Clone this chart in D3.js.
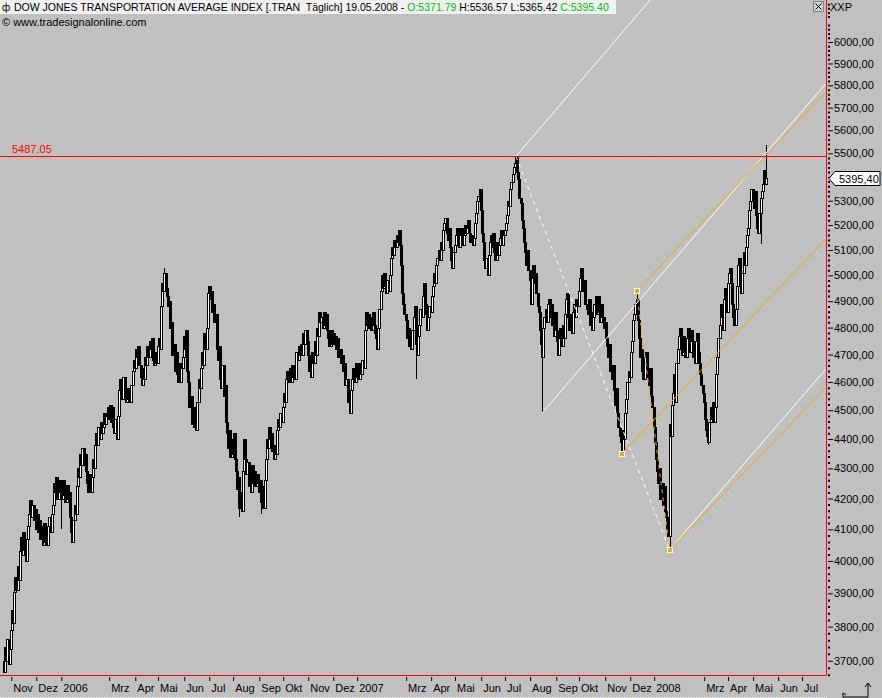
<!DOCTYPE html>
<html><head><meta charset="utf-8">
<script src="https://cdn.jsdelivr.net/npm/d3@7"></script>
<style>body{margin:0;background:#c0c0c0;overflow:hidden}svg{display:block}</style>
</head><body>
<svg id="c" width="882" height="698"></svg>
<script>
// ---------- DATA (daily closes, one per weekday from 24.10.2005) ----------
const closes2005 = [
 3668,3740,3700,3762,3690,3735,
 3790,3850,3810,3905,3950,3910,3985,3940,4030,4075,4020,4090,4035,4000,4070,4110,4150,4195,4140,4180,4130,4165,
 4100,4150,4090,4130,4070,4110,4050,4120,4060,4100,4050,4110,4140,4090,4150,4180,4250,4220,4270,4200,4260,4220];
const closes2006 = [
 4250,4200,4260,4210,4190,4245,4200,4220,4140,4090,4060,4130,4180,4150,4240,4300,4270,4350,4310,4370,4310,4350,
 4290,4250,4220,4280,4220,4270,4330,4300,4380,4420,4380,4440,4400,4460,4420,4440,4490,4450,4480,4510,
 4470,4520,4460,4510,4440,4420,4470,4400,4480,4570,4610,4570,4540,4620,4570,4530,4580,4540,4560,4530,4590,4640,4680,
 4650,4720,4690,4730,4660,4620,4590,4650,4610,4690,4660,4730,4690,4750,4720,4760,4680,4660,4710,4670,
 4730,4760,4720,4880,4970,4940,5010,4950,4920,4880,4900,4800,4820,4700,4740,4640,4710,4630,4600,4670,4600,4650,4690,
 4770,4720,4790,4640,4600,4510,4550,4450,4510,4440,4490,4430,4530,4610,4580,4650,4710,4660,4780,4720,4800,4930,
 4960,4910,4940,4860,4890,4820,4850,4720,4680,4730,4610,4580,4660,4550,4590,4460,4420,4370,4430,4340,4400,
 4350,4420,4330,4290,4230,4270,4170,4220,4160,4290,4400,4330,4280,4320,4240,4290,4220,4310,4250,4290,4240,4280,4250,
 4220,4260,4190,4240,4170,4260,4330,4400,4370,4440,4400,4420,4360,4330,4380,4350,4430,4470,4440,4490,4460,
 4510,4560,4530,4610,4640,4600,4650,4600,4660,4620,4650,4610,4710,4680,4730,4700,4740,4700,4780,4740,4790,4750,
 4700,4640,4680,4620,4710,4670,4750,4700,4800,4770,4860,4820,4840,4800,4860,4810,4850,4790,4760,4730,4790,4740,
 4780,4740,4770,4720,4760,4690,4720,4670,4700,4640,4670,4590,4610,4530,4560,4490,4570,4610,4650,4600,4670];
const closes2007 = [
 4620,4660,4610,4670,4630,4680,4650,4790,4860,4810,4850,4800,4840,4790,4860,4810,4780,4760,4720,4800,4870,4940,5000,
 4950,5010,4960,4930,4980,4940,5000,5070,5110,5080,5140,5110,5160,5130,5180,5120,5040,4930,4890,4850,
 4830,4760,4800,4730,4780,4720,4790,4840,4880,4740,4700,4770,4810,4870,4840,4920,4970,4890,4850,4790,4840,4880,
 4860,4920,4960,5010,4970,5040,5070,5100,5060,5130,5100,5180,5210,5230,5170,5140,5190,5110,5060,5030,5090,
 5120,5160,5190,5140,5110,5160,5190,5120,5160,5200,5170,5190,5220,5170,5130,5160,5120,5150,5210,5250,5300,5320,5350,
 5260,5170,5130,5060,5030,5070,5000,5080,5130,5160,5110,5170,5090,5060,5130,5080,5120,5150,5180,5120,5160,
 5180,5210,5240,5300,5280,5350,5380,5410,5440,5460,5487,5420,5390,5310,5290,5220,5190,5130,5090,5040,5100,5020,
 4980,4890,4990,5040,4970,5010,4930,4880,4860,4790,4740,4690,4800,4840,4870,4820,4890,4910,4840,4890,4810,4770,4860,
 4790,4750,4700,4760,4800,4730,4810,4760,4850,4910,4930,4840,4790,4850,4780,4860,4890,4840,4910,4880,
 4940,4990,5030,4980,4940,4980,4890,4870,4850,4910,4810,4860,4790,4840,4890,4920,4850,4920,4860,4820,4890,4840,4800,
 4820,4760,4730,4690,4740,4640,4610,4660,4570,4520,4580,4490,4440,4410,4390,4360,4430,4400,4490,4540,4600,4640,
 4620,4710,4750,4830,4850,4890,4910,4830,4760,4690,4720,4640,4610,4690,4710,4650,4620,4590,4650,4550,4510];
const closes2008 = [
 4440,4390,4330,4290,4250,4300,4200,4250,4180,4240,4160,4140,4100,4080,4450,4410,4520,4560,4630,4530,4670,4720,4770,
 4800,4730,4700,4770,4710,4690,4760,4800,4730,4710,4790,4750,4690,4670,4750,4780,4710,4670,4630,4590,4560,
 4530,4470,4430,4410,4390,4460,4510,4470,4530,4460,4510,4630,4690,4760,4810,4890,4840,4790,4910,4950,4860,
 4970,5010,5030,4970,4890,4840,4810,4870,4960,5040,5070,4970,4930,5010,5090,5040,5110,5160,5190,5260,5300,5350,
 5330,5270,5340,5240,5190,5170,5250,5310,5340,5370,5430,5372,5395.40];
const lastBar = {open:5371.79, high:5536.57, low:5365.42, close:5395.40};
// visible wick extremes
const wickHighs = [["2007-07-16",5487.05],["2007-12-11",4940],["2006-05-09",5030]];
const wickLows  = [["2007-08-16",4490],["2007-11-22",4350],["2008-01-21",4035],["2008-03-07",4380],
                   ["2006-08-09",4140],["2006-09-05",4150],["2007-03-14",4610],["2008-05-12",5125],["2006-01-02",4100]];
// drawing-tool anchors
const whiteLines  = [["2007-07-16",5487.05,"2008-07-30",7274],["2007-08-16",4490,"2008-07-30",5806],["2008-01-21",4035,"2008-07-30",4645]];
const orangeLines = [["2007-12-11",4940,"2008-07-30",5768],["2007-11-22",4350,"2008-07-30",5141],["2008-01-21",4035,"2008-07-30",4580]];
const whiteDashed  = [["2007-07-16",5487.05,"2008-01-21",4035]];
const orangeDashed = [["2007-12-11",4940,"2008-01-21",4035]];
const pivotPoints = [["2007-11-22",4350],["2007-12-11",4940],["2008-01-21",4035]];
const resistance = 5487.05;
const priceTicks = d3.range(3700, 6001, 100);
const monthNames = ["Jan","Feb","Mrz","Apr","Mai","Jun","Jul","Aug","Sep","Okt","Nov","Dez"];
const title = "DOW JONES TRANSPORTATION AVERAGE INDEX [.TRAN\u00a0 Täglich] 19.05.2008 - ";
const ohlcText = [["O:5371.79","#00c000"],[" H:5536.57","#000"],[" L:5365.42","#000"],[" C:5395.40","#00c000"]];

// ---------- LAYOUT ----------
const PR = 826, PB = 675, FONT = "Liberation Sans, Arial, sans-serif";
const svg = d3.select("#c");
const days = [];
for (let d = new Date(2005,9,24); d <= new Date(2008,6,31); d.setDate(d.getDate()+1)) {
  const w = d.getDay(); if (w !== 0 && w !== 6) days.push(new Date(d));
}
const key = d3.timeFormat("%Y-%m-%d");
const idx = new Map(days.map((d,i)=>[key(d), i]));
const x = d3.scaleLinear().domain([-3.5, 722.5]).range([0, PR]);
const y = d3.scaleLog().domain([3659, 6200]).range([PB, 0]);

const closes = [...closes2005, ...closes2006, ...closes2007, ...closes2008];
const bars = closes.map((c,i)=>{ const o = i ? closes[i-1] : 3700; return {i, open:o, close:c, high:Math.max(o,c), low:Math.min(o,c)}; });
Object.assign(bars[bars.length-1], lastBar);
wickHighs.forEach(([d,v])=>{ const b = bars[idx.get(d)]; if (b) b.high = Math.max(b.high, v); });
wickLows.forEach(([d,v])=>{ const b = bars[idx.get(d)]; if (b) b.low = Math.min(b.low, v); });

// background
svg.append("rect").attr("width",882).attr("height",698).attr("fill","#c0c0c0");
svg.append("defs").append("clipPath").attr("id","plot").append("rect").attr("width",PR).attr("height",PB);

// grid
const grid = svg.append("g").attr("clip-path","url(#plot)");
grid.selectAll("line.h").data(priceTicks.filter(v=>v%500===0)).join("line")
  .attr("x1",0).attr("x2",PR).attr("y1",d=>Math.round(y(d))+0.5).attr("y2",d=>Math.round(y(d))+0.5)
  .attr("stroke","#b0c8b0").attr("stroke-dasharray","1,2");
const monthStarts = days.map((d,i)=>[d,i]).filter(([d,i])=> i>0 && d.getMonth()!==days[i-1].getMonth());
grid.selectAll("line.v").data(monthStarts.filter(([d])=>d.getMonth()===0)).join("line")
  .attr("x1",d=>Math.round(x(d[1]))+0.5).attr("x2",d=>Math.round(x(d[1]))+0.5).attr("y1",0).attr("y2",PB)
  .attr("stroke","#b0c8b0").attr("stroke-dasharray","1,2");

// candles
const cg = svg.append("g").attr("clip-path","url(#plot)").attr("shape-rendering","crispEdges");
cg.selectAll("line.w").data(bars).join("line")
  .attr("x1",b=>Math.round(x(b.i))+0.5).attr("x2",b=>Math.round(x(b.i))+0.5)
  .attr("y1",b=>y(b.high)).attr("y2",b=>y(b.low)).attr("stroke","#000");
cg.selectAll("rect").data(bars).join("rect")
  .attr("x",b=>Math.round(x(b.i))-0.5).attr("width",2)
  .attr("y",b=>Math.round(y(Math.max(b.open,b.close)))+0.5)
  .attr("height",b=>Math.max(1,Math.round(y(Math.min(b.open,b.close)))-Math.round(y(Math.max(b.open,b.close)))))
  .attr("fill",b=>b.close>=b.open?"#fff":"#000").attr("stroke","#000");

// annotation lines
const lg = svg.append("g").attr("clip-path","url(#plot)");
const seg = (sel, data, color, dash) => sel.selectAll(null).data(data).join("line")
  .attr("x1",d=>x(idx.get(d[0]))).attr("y1",d=>y(d[1])).attr("x2",d=>x(idx.get(d[2]))).attr("y2",d=>y(d[3]))
  .attr("stroke",color).attr("stroke-width",1).attr("stroke-dasharray",dash);
seg(lg, whiteLines, "#fff", null);
seg(lg, orangeLines, "#ffa500", null);
seg(lg, whiteDashed, "#fff", "4,4");
seg(lg, orangeDashed, "#ffa500", "4,4");
lg.selectAll("rect.p").data(pivotPoints).join("rect")
  .attr("x",d=>Math.round(x(idx.get(d[0])))-2.5).attr("y",d=>Math.round(y(d[1]))-2.5).attr("width",5).attr("height",5)
  .attr("fill","#ffa500").attr("stroke","#fff");

// resistance line
svg.append("line").attr("x1",0).attr("x2",PR).attr("y1",Math.round(y(resistance))+0.5).attr("y2",Math.round(y(resistance))+0.5)
  .attr("stroke","#ff0000");
svg.append("text").attr("x",12).attr("y",Math.round(y(resistance))-3).attr("fill","#ff0000")
  .attr("font-family",FONT).attr("font-size",11).text(resistance.toFixed(2));

// frame
svg.append("line").attr("x1",PR+0.5).attr("x2",PR+0.5).attr("y1",0).attr("y2",PB+1).attr("stroke","#ff0000");
svg.append("line").attr("x1",0).attr("x2",PR+1).attr("y1",PB+0.5).attr("y2",PB+0.5).attr("stroke","#ff0000");

// right axis
const fmt = v => d3.format(".2f")(v).replace(".",",");
const lastY = y(lastBar.close);
const ya = svg.append("g").attr("transform",`translate(${PR+2},0)`)
  .call(d3.axisRight(y).tickValues(priceTicks).tickFormat(v => Math.abs(y(v)-lastY) < 12 ? "" : fmt(v)).tickSize(5).tickPadding(1));
ya.select(".domain").remove();
ya.selectAll("text").attr("font-family",FONT).attr("font-size",11).attr("fill","#000");
ya.selectAll(".tick line").attr("stroke","#000");
const minor = d3.range(3660, 6200, 20).filter(v=>v%100!==0);
const ym = svg.append("g").attr("transform",`translate(${PR+2},0)`)
  .call(d3.axisRight(y).tickValues(minor).tickFormat("").tickSize(2));
ym.select(".domain").remove();
ym.selectAll(".tick line").attr("stroke","#000").attr("stroke-width",2);
svg.append("text").attr("x",830).attr("y",11).attr("font-family",FONT).attr("font-size",11).text("XXP");

// last price marker
const ly = Math.round(lastY) + 0.5;
svg.append("path").attr("d",`M829,${ly} L835,${ly-7} L880,${ly-7} L880,${ly+7} L835,${ly+7} Z`)
  .attr("fill","#fff").attr("stroke","#000");
svg.append("text").attr("x",839).attr("y",ly+4).attr("font-family",FONT).attr("font-size",11).text(fmt(lastBar.close));

// bottom axis
const xa = svg.append("g").attr("transform",`translate(0,${PB+2})`)
  .call(d3.axisBottom(x).tickValues(monthStarts.filter(([d])=>d.getMonth()!==1).map(d=>d[1]))
    .tickFormat(i=>{ const d = days[i]; return d.getMonth()===0 ? d.getFullYear() : monthNames[d.getMonth()]; })
    .tickSize(4).tickPadding(3));
xa.select(".domain").remove();
xa.selectAll(".tick line").attr("stroke","#000").attr("transform","translate(0.5,0)");
xa.selectAll("text").attr("text-anchor","start").attr("x",2).attr("font-family",FONT).attr("font-size",11).attr("fill","#000");
svg.append("line").attr("x1",0).attr("x2",PR+1).attr("y1",697.5).attr("y2",697.5).attr("stroke","#fff").attr("stroke-dasharray","1,1");

// corner icon
svg.append("path").attr("d","M843,693 L843,697 L868,697 L868,683 M865,687 L868,683 L871,687 M843,693 L846,695")
  .attr("fill","none").attr("stroke","#000");
// close button
svg.append("rect").attr("x",813.5).attr("y",1.5).attr("width",10).attr("height",10).attr("fill","#d0d0d0").attr("stroke","#808080");
svg.append("path").attr("d","M815.5,3.5 L821.5,9.5 M821.5,3.5 L815.5,9.5").attr("stroke","#000");

// header
svg.append("rect").attr("x",0).attr("y",0).attr("width",616).attr("height",14).attr("fill","#f0f0f0");
svg.append("text").attr("x",2).attr("y",11).attr("font-family",FONT).attr("font-size",10).text("ф");
const ht = svg.append("text").attr("x",14).attr("y",11).attr("font-family",FONT).attr("font-size",10.5).attr("fill","#000");
ht.append("tspan").text(title);
ohlcText.forEach(([t,c])=>ht.append("tspan").attr("fill",c).text(t));
svg.append("text").attr("x",2).attr("y",26).attr("font-family",FONT).attr("font-size",11).text("© www.tradesignalonline.com");
</script>
</body></html>
